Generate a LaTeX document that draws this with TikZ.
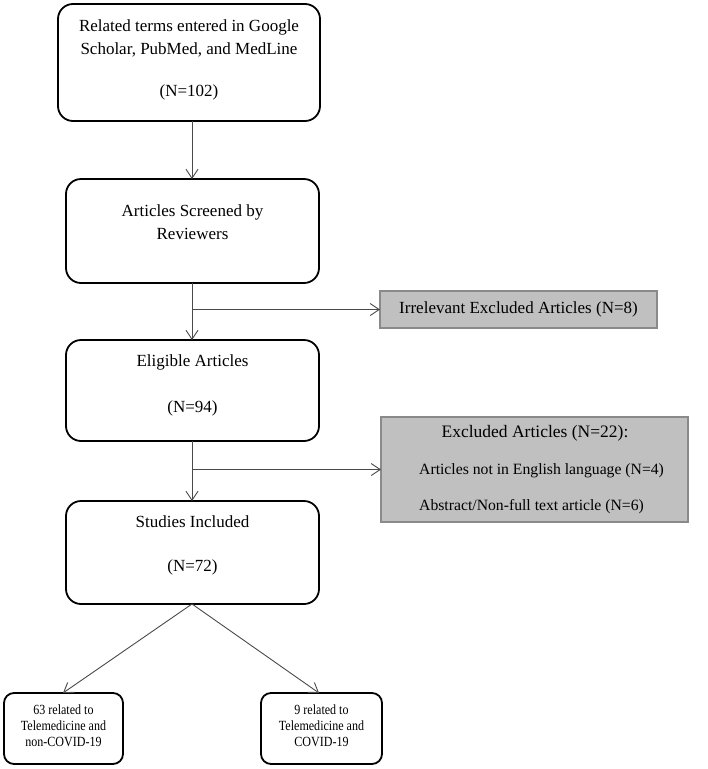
\documentclass[tikz,border=0pt]{standalone}
\usepackage{fontspec}
\setmainfont{Liberation Serif}
\newfontfamily\narrowserif[FakeStretch=0.86]{Liberation Serif}
\usetikzlibrary{arrows.meta}
\definecolor{greyfill}{HTML}{C0C0C0}
\definecolor{greyline}{HTML}{8A8A8A}
\definecolor{arrline}{HTML}{4A4A4A}
\begin{document}
\begin{tikzpicture}[x=1pt,y=-1pt,
  mainbox/.style={draw=black, line width=1.8pt, rounded corners=15pt, inner sep=0pt, outer sep=0pt},
  smallbox/.style={draw=black, line width=1.8pt, rounded corners=10pt, inner sep=0pt, outer sep=0pt, minimum width=119pt, minimum height=71pt},
  greybox/.style={draw=greyline, fill=greyfill, line width=1.6pt, inner sep=0pt, outer sep=0pt},
  bigtxt/.style={align=center, inner sep=0pt, font=\fontsize{17}{23}\selectfont},
  smalltxt/.style={align=center, inner sep=0pt, font=\narrowserif\fontsize{14}{16}\selectfont},
  arr/.style={draw=arrline, line width=0.9pt, -{Straight Barb[length=9pt,width=12pt,line width=0.9pt]}},
  ln/.style={draw=arrline, line width=0.9pt}]
\useasboundingbox (0,0) rectangle (708,769);

% main boxes
\node[mainbox, minimum width=262pt, minimum height=117pt] (b1) at (189,62.5) {};
\node[mainbox, minimum width=253pt, minimum height=104pt] (b2) at (192.5,231) {};
\node[mainbox, minimum width=253pt, minimum height=101pt] (b3) at (192.5,390.5) {};
\node[mainbox, minimum width=253pt, minimum height=103pt] (b4) at (192.5,552.5) {};

\node[bigtxt] (t1) at ([yshift=3pt]b1.center) {Related terms entered in Google\\Scholar, PubMed, and MedLine\\[19pt](N=102)};
\node[bigtxt] (t2) at ([yshift=8.5pt]b2.center) {Articles Screened by\\Reviewers};
\node[bigtxt] (t3) at ([yshift=5.5pt]b3.center) {Eligible Articles\\[23pt](N=94)};
\node[bigtxt] (t4) at ([yshift=7.5pt]b4.center) {Studies Included\\[21pt](N=72)};

% grey boxes
\node[greybox, minimum width=277pt, minimum height=37pt] (g1) at (518.5,309.5) {};
\node[bigtxt] (g1t) at (g1.center) {Irrelevant Excluded Articles (N=8)};
\node[greybox, minimum width=307pt, minimum height=105pt] (g2) at (534.5,469.5) {};
\node[bigtxt, font=\fontsize{17.5}{23}\selectfont] (g2h) at (535,433) {Excluded Articles (N=22):};
\node[align=left, inner sep=0pt, anchor=west, font=\fontsize{15.7}{36}\selectfont] (g2b) at (419,488.5) {Articles not in English language (N=4)\\Abstract/Non-full text article (N=6)};

% bottom boxes
\node[smallbox] (c1) at (63.5,728.5) {};
\node[smallbox, minimum width=121pt] (c2) at (321.5,728.5) {};
\node[smalltxt] (c1t) at ([yshift=2.5pt]c1.center) {63 related to\\Telemedicine and\\non-COVID-19};
\node[smalltxt] (c2t) at ([yshift=2.5pt]c2.center) {9 related to\\Telemedicine and\\COVID-19};

% connectors
\path (b2.south) ++(-0.5,0) coordinate (x0);
\coordinate (j1) at (x0 |- g1.west);
\coordinate (j2) at (x0 |- g2.west);
\draw[arr] (b1.south -| x0) -- (b2.north -| x0);
\draw[arr] (x0) -- (b3.north -| x0);
\draw[arr] (j1) -- (g1.west);
\draw[arr] (b3.south -| x0) -- (b4.north -| x0);
\draw[arr] (j2) -- (g2.west);
\draw[arr] (b4.south -| x0) -- ([xshift=-0.5pt]c1.north);
\draw[arr] (b4.south -| x0) -- ([xshift=-2.5pt]c2.north);
\end{tikzpicture}
\end{document}
